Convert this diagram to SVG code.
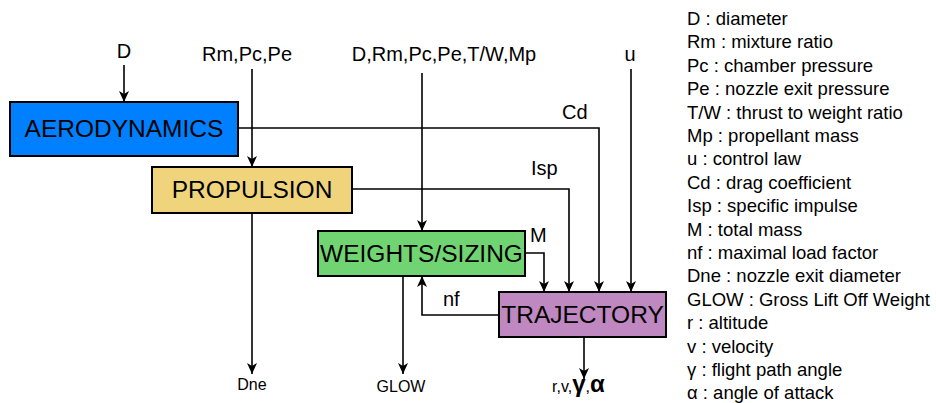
<svg xmlns="http://www.w3.org/2000/svg" width="936" height="403" viewBox="0 0 936 403">
<style>
text{font-family:"Liberation Sans",Arial,sans-serif;fill:#000}
.box{stroke:#000;stroke-width:2}
.bl{font-size:24.5px;text-anchor:middle}
.in{font-size:20px;text-anchor:middle}
.lb{font-size:20px}
.out{font-size:16px;text-anchor:middle}
.leg{font-size:18.5px}
.c{fill:none;stroke:#000;stroke-width:1.6;marker-end:url(#ah)}
</style>
<defs>
<marker id="ah" markerUnits="userSpaceOnUse" markerWidth="12" markerHeight="10" refX="11" refY="5" orient="auto">
<path d="M0,0 L11,5 L0,10 L3,5 z" fill="#000"/>
</marker>
</defs>
<g id="connectors">
<path class="c" d="M124,65 V102"/>
<path class="c" d="M252,69 V167"/>
<path class="c" d="M422,73 V231"/>
<path class="c" d="M238,128 H599 V292"/>
<path class="c" d="M352,189 H569 V292"/>
<path class="c" d="M631,69 V292"/>
<path class="c" d="M525,253 H544 V292"/>
<path class="c" d="M499,315 H422 V276"/>
<path class="c" d="M403,276 V374"/>
<path class="c" d="M252,213 V374"/>
<path class="c" d="M584,337 V379"/>
</g>
<g id="aerodynamics">
<rect class="box" x="10" y="102" width="228" height="54" fill="#0080FF"/>
<text class="bl" x="124" y="137">AERODYNAMICS</text>
</g>
<g id="propulsion">
<rect class="box" x="152" y="167" width="200" height="46" fill="#F0D47C"/>
<text class="bl" x="252" y="198">PROPULSION</text>
</g>
<g id="weights">
<rect class="box" x="318" y="231" width="207" height="45" fill="#70D472"/>
<text class="bl" x="421.5" y="262">WEIGHTS/SIZING</text>
</g>
<g id="trajectory">
<rect class="box" x="499" y="292" width="167" height="45" fill="#C088C0"/>
<text class="bl" x="582.5" y="323">TRAJECTORY</text>
</g>
<g id="labels">
<text class="in" x="124" y="58">D</text>
<text class="in" x="247" y="61">Rm,Pc,Pe</text>
<text class="in" x="444" y="61">D,Rm,Pc,Pe,T/W,Mp</text>
<text class="in" x="630" y="61">u</text>
<text class="lb" x="562" y="119">Cd</text>
<text class="lb" x="531" y="175">Isp</text>
<text class="lb" x="530" y="242">M</text>
<text class="lb" x="443" y="306">nf</text>
<text class="out" x="252" y="390">Dne</text>
<text class="out" x="401" y="392">GLOW</text>
<text x="552" y="392" font-size="16px">r,v,<tspan font-size="24px" font-weight="bold">γ</tspan>,<tspan font-size="24px" font-weight="bold">α</tspan></text>
</g>
<g id="legend" class="leg">
<text class="leg" x="687" y="25">D : diameter</text>
<text class="leg" x="687" y="48.4">Rm : mixture ratio</text>
<text class="leg" x="687" y="71.8">Pc : chamber pressure</text>
<text class="leg" x="687" y="95.2">Pe : nozzle exit pressure</text>
<text class="leg" x="687" y="118.6">T/W : thrust to weight ratio</text>
<text class="leg" x="687" y="142">Mp : propellant mass</text>
<text class="leg" x="687" y="165.4">u : control law</text>
<text class="leg" x="687" y="188.8">Cd : drag coefficient</text>
<text class="leg" x="687" y="212.2">Isp : specific impulse</text>
<text class="leg" x="687" y="235.6">M : total mass</text>
<text class="leg" x="687" y="259">nf : maximal load factor</text>
<text class="leg" x="687" y="282.4">Dne : nozzle exit diameter</text>
<text class="leg" x="687" y="305.8">GLOW : Gross Lift Off Weight</text>
<text class="leg" x="687" y="329.2">r : altitude</text>
<text class="leg" x="687" y="352.6">v : velocity</text>
<text class="leg" x="687" y="376">γ : flight path angle</text>
<text class="leg" x="687" y="399.4">α : angle of attack</text>
</g>
</svg>
